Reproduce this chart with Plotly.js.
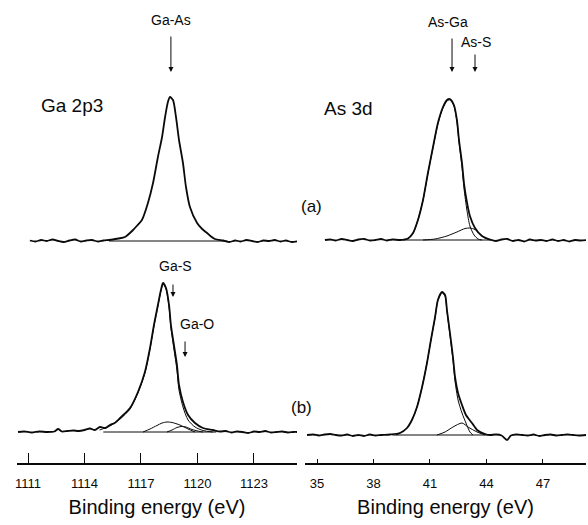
<!DOCTYPE html>
<html>
<head>
<meta charset="utf-8">
<script src="https://cdn.plot.ly/plotly-3.0.1.min.js"></script>
<style>html,body{margin:0;padding:0;background:#fff;}#chart{width:588px;height:525px;}</style>
</head>
<body>
<div id="chart"></div>
<script>
// ---------- Data (binding energy in eV, intensity in arbitrary units) ----------
// Ga 2p3, spectrum (a)
const gaA_E = [1111.1,1111.4,1111.7,1112.0,1112.3,1112.6,1112.9,1113.2,1113.5,1113.8,1114.1,1114.4,1114.7,1115.0,1115.3,1115.51,1115.8,1116.15,1116.58,1116.8,1117.05,1117.37,1117.64,1117.90,1118.12,1118.28,1118.43,1118.54,1118.70,1118.86,1119.02,1119.23,1119.39,1119.60,1119.98,1120.25,1120.51,1120.72,1120.93,1121.36,1121.7,1122.0,1122.3,1122.6,1122.9,1123.2,1123.5,1123.8,1124.1,1124.4,1124.7,1125.0,1125.4];
const gaA_I = [0.5,-0.5,1,0,1.5,0,-1,0.5,1.5,-0.5,0.5,1,-0.5,0.5,1,1.5,2.5,4,11,15.5,21,38,58,84,104,124,139,144,141,124,101,78,54,34,18,12,8,4.5,2,0.5,-1,0.5,-0.5,1,0,-1,0.5,0,1,-0.5,0.5,-1,0];
const gaA_bgE = [1115.3,1121.6];
const gaA_bgI = [0,0];

// As 3d, spectrum (a)
const asA_E = [35.42,35.7,36.0,36.3,36.6,36.9,37.2,37.5,37.8,38.1,38.4,38.7,39.0,39.41,39.83,40.10,40.36,40.63,40.89,41.16,41.42,41.69,41.90,42.06,42.27,42.43,42.54,42.70,42.81,42.96,43.12,43.39,43.76,44.19,44.5,44.8,45.1,45.4,45.7,46.0,46.3,46.6,46.9,47.2,47.5,47.8,48.1,48.4,48.7,49.0,49.3];
const asA_I = [0,0.5,-0.5,1,0,-1,0.5,1,-0.5,0,1,-0.5,0.5,0,1.5,7,20,40,67,93,117,133,140,141,135,120,100,77,56,38,24,12,4,0.5,-1,0.5,1,-1,0,-1.5,0.5,-0.5,0,-1,0.5,-1,0,-1.5,0,-0.5,0];
const asA_asGaE = [39.6,39.83,40.10,40.36,40.63,40.89,41.16,41.42,41.69,41.90,42.06,42.27,42.43,42.54,42.70,42.81,42.96,43.12,43.34,43.55,43.76];
const asA_asGaI = [0,1.5,7,20,40,66.5,92.5,116,132,139,140,134,118.5,98,73,51,30,14,5,1,0];
const asA_asSE = [40.63,41.27,41.90,42.43,42.86,43.12,43.39,43.65,43.92,44.19];
const asA_asSI = [0,1,4,8,11.5,12,10.5,6,2,0];
const asA_bgE = [39.4,44.3];
const asA_bgI = [0,0];

// Ga 2p3, spectrum (b)
const gaB_E = [1110.47,1110.8,1111.2,1111.6,1112.0,1112.4,1112.6,1112.8,1113.1,1113.4,1113.7,1114.0,1114.29,1114.55,1114.82,1115.1,1115.35,1115.6,1115.89,1116.42,1116.84,1117.21,1117.48,1117.69,1117.90,1118.06,1118.17,1118.33,1118.49,1118.59,1118.75,1118.91,1119.02,1119.23,1119.50,1119.87,1120.29,1120.82,1121.2,1121.5,1121.8,1122.1,1122.4,1122.7,1123.0,1123.3,1123.6,1123.9,1124.2,1124.5,1124.8,1125.1,1125.4];
const gaB_I = [0,0.5,-0.5,0.5,0,0.5,3,0.5,1,1.5,1,2,3.5,2,5,4,7,9,14,24,40,60,84,107,127,142,149,144,127,107,87,67,47,30,17,9,4,2,0.5,1,-0.5,0.5,0,-1,0.5,0,1,-0.5,0,0.5,-0.5,0,0];
const gaB_gaAsE = [1114.8,1115.35,1115.89,1116.42,1116.84,1117.21,1117.48,1117.69,1117.90,1118.06,1118.17,1118.33,1118.49,1118.59,1118.75,1118.91,1119.02,1119.23,1119.50,1119.87,1120.29,1120.82];
const gaB_gaAsI = [2,6,13,23,39,59,83,106,126,141,148,143,125,104,83,62,42,25,12,5,1.5,0];
const gaB_gaSE = [1117.11,1117.48,1117.85,1118.12,1118.38,1118.65,1119.07,1119.50,1119.87];
const gaB_gaSI = [0,3,6.5,9,10,9.5,7,3,0];
const gaB_gaOE = [1118.38,1118.65,1118.91,1119.13,1119.39,1119.71,1120.13,1120.29];
const gaB_gaOI = [0,2,4.5,5.5,5,2.5,0.5,0];
const gaB_bgE = [1115.0,1121.0];
const gaB_bgI = [0,0];

// As 3d, spectrum (b)
const asB_E = [34.47,34.8,35.1,35.4,35.7,36.0,36.3,36.6,36.9,37.2,37.5,37.8,38.1,38.4,38.88,39.41,39.78,40.04,40.31,40.58,40.84,41.05,41.27,41.42,41.64,41.80,41.90,42.06,42.22,42.33,42.49,42.70,42.91,43.23,43.50,43.92,44.19,44.5,44.8,45.09,45.3,45.6,45.9,46.2,46.5,46.8,47.1,47.4,47.7,48.0,48.3,48.6,48.9,49.3];
const asB_I = [0,0.5,-0.5,0.5,1,0,-0.5,0.5,-1,0,-1,0.5,-0.5,0,0.5,2,7,15,28,48,72,95,118,135,143,140,125,102,78,58,42,30,20,12,5,1,0,0.5,-0.5,-5,-0.5,0.5,0,-0.5,0.5,-1,0,0.5,-0.5,0,0.5,0,-0.5,0];
const asB_asGaE = [39.2,39.41,39.78,40.04,40.31,40.58,40.84,41.05,41.27,41.42,41.64,41.80,41.90,42.06,42.22,42.33,42.49,42.70,42.91,43.12,43.28];
const asB_asGaI = [0,2,7,15,28,48,72,95,117.5,134.5,142,139,124,100,75,54,35,22,12,3,0];
const asB_asSE = [41.37,41.80,42.22,42.70,43.02,43.50,43.92];
const asB_asSI = [0,3,8,12,8,3,0];
const asB_bgE = [39.0,44.3];
const asB_bgI = [0,0];

// Tick labels
const gaTicks = [1111,1114,1117,1120,1123];
const asTicks = [35,38,41,44,47];

// ---------- Vertical stacking offsets for the two rows ----------
const offGaA = 222, offAsA = 223, offGaB = 31, offAsB = 28;

const FONT = 'Liberation Sans, Arial, Helvetica, sans-serif';
const INK = '#0a0a0a';

function tr(E, I, off, xa, w) {
  return {
    x: E, y: I.map(v => v + off), xaxis: xa, yaxis: 'y',
    type: 'scatter', mode: 'lines', hoverinfo: 'skip',
    line: {color: INK, width: w, shape: 'spline', smoothing: 0.7}
  };
}

const data = [
  tr(gaA_bgE, gaA_bgI, offGaA, 'x', 1),
  tr(gaA_E, gaA_I, offGaA, 'x', 1.8),

  tr(asA_bgE, asA_bgI, offAsA, 'x2', 1),
  tr(asA_asSE, asA_asSI, offAsA, 'x2', 1),
  tr(asA_asGaE, asA_asGaI, offAsA, 'x2', 1),
  tr(asA_E, asA_I, offAsA, 'x2', 1.8),

  tr(gaB_bgE, gaB_bgI, offGaB, 'x', 1),
  tr(gaB_gaSE, gaB_gaSI, offGaB, 'x', 1),
  tr(gaB_gaOE, gaB_gaOI, offGaB, 'x', 1),
  tr(gaB_gaAsE, gaB_gaAsI, offGaB, 'x', 1),
  tr(gaB_E, gaB_I, offGaB, 'x', 1.8),

  tr(asB_bgE, asB_bgI, offAsB, 'x2', 1),
  tr(asB_asSE, asB_asSI, offAsB, 'x2', 1),
  tr(asB_asGaE, asB_asGaI, offAsB, 'x2', 1),
  tr(asB_E, asB_I, offAsB, 'x2', 1.8)
];

function txt(x, y, text, size, xref) {
  return {x: x, y: y, xref: xref || 'x', yref: 'y', text: text, showarrow: false,
          xanchor: 'center', yanchor: 'middle', font: {family: FONT, size: size, color: INK}};
}
function arrow(x, y, len, xref) {
  return {x: x, y: y, xref: xref, yref: 'y', ax: 0, ay: -len, text: '', showarrow: true,
          arrowhead: 2, arrowsize: 1, arrowwidth: 1, arrowcolor: INK, standoff: 0};
}

const axisCommon = {
  showgrid: false, zeroline: false, showline: true, linecolor: INK, linewidth: 1.5,
  ticks: 'inside', tickcolor: INK, tickwidth: 1, ticklabelstandoff: 8,
  tickfont: {family: FONT, size: 13, color: INK},
  title: {text: 'Binding energy (eV)', font: {family: FONT, size: 20, color: INK}, standoff: 10},
  fixedrange: true, anchor: 'y'
};

const layout = {
  width: 588, height: 525,
  margin: {l: 0, r: 0, t: 0, b: 62},
  paper_bgcolor: '#fff', plot_bgcolor: '#fff',
  showlegend: false,
  xaxis: Object.assign({}, axisCommon, {
    domain: [17/588, 297/588], range: [1110.416, 1125.286],
    tickvals: gaTicks, ticktext: gaTicks.map(String), ticklen: 10
  }),
  xaxis2: Object.assign({}, axisCommon, {
    domain: [305/588, 586/588], range: [34.362, 49.285],
    tickvals: asTicks, ticktext: asTicks.map(String), ticklen: 4
  }),
  yaxis: {domain: [0, 1], range: [0, 463], visible: false, fixedrange: true},
  annotations: [
    txt(1113.34, 358, 'Ga 2p3', 19),
    txt(36.65, 355, 'As 3d', 19, 'x2'),
    txt(1118.59, 443, 'Ga-As', 14),
    arrow(1118.59, 391, 37, 'x'),
    txt(41.96, 441, 'As-Ga', 14, 'x2'),
    arrow(42.17, 391, 35, 'x2'),
    txt(43.45, 421, 'As-S', 14, 'x2'),
    arrow(43.39, 391, 19, 'x2'),
    txt(1118.81, 197, 'Ga-S', 14),
    arrow(1118.70, 166, 14, 'x'),
    txt(1119.97, 139, 'Ga-O', 14),
    arrow(1119.34, 106, 17, 'x'),
    txt(311/588, 257, '(a)', 17, 'paper'),
    txt(301/588, 56, '(b)', 17, 'paper')
  ]
};

Plotly.newPlot('chart', data, layout, {staticPlot: true, displayModeBar: false});
</script>
</body>
</html>
